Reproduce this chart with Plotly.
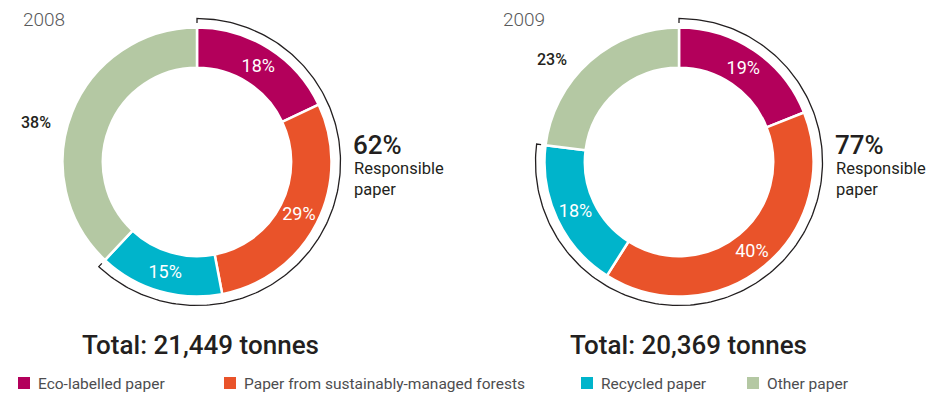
import numpy as np
import plotly.graph_objects as go

# ---------------- data ----------------
categories = ["Eco-labelled paper", "Paper from sustainably-managed forests",
              "Recycled paper", "Other paper"]
years = ["2008", "2009"]
values_2008 = [18, 29, 15, 38]
values_2009 = [19, 40, 18, 23]
totals = [21449, 20369]
responsible_label = "Responsible<br>paper"

colors = ["#B3005B", "#E9532A", "#00B4CB", "#B4C8A3"]
dark = "#231F20"
gray = "#58595B"

W, H = 938, 396
R_OUT = 134.5
CENTERS = [(197, 162), (679, 162)]

fig = go.Figure()

all_values = [values_2008, values_2009]
for (cx, cy), vals in zip(CENTERS, all_values):
    dom_x = [(cx - R_OUT) / W, (cx + R_OUT) / W]
    dom_y = [(H - cy - R_OUT) / H, (H - cy + R_OUT) / H]
    texts = [f"{v}%" for v in vals[:-1]] + [""]
    fig.add_trace(go.Pie(
        labels=categories, values=vals, sort=False, direction="clockwise",
        rotation=0, hole=0.70,
        marker=dict(colors=colors, line=dict(color="white", width=2.5)),
        text=texts, textinfo="text", textposition="inside",
        insidetextorientation="horizontal",
        textfont=dict(family="Roboto", size=18, color="white"),
        domain=dict(x=dom_x, y=dom_y), showlegend=False, hoverinfo="label+percent",
    ))

# bracket arcs for responsible share (first three categories)
R_BR, R_TICK = 143.5, 139
for (cx, cy), vals in zip(CENTERS, all_values):
    frac = sum(vals[:3]) / sum(vals)
    th = np.linspace(0, frac * 2 * np.pi, 200)
    xs = np.concatenate([[cx], cx + R_BR * np.sin(th), [cx + R_TICK * np.sin(th[-1])]])
    ys = np.concatenate([[cy - R_TICK], cy - R_BR * np.cos(th), [cy - R_TICK * np.cos(th[-1])]])
    fig.add_trace(go.Scatter(x=xs, y=ys, mode="lines",
                             line=dict(color=dark, width=1.3),
                             showlegend=False, hoverinfo="skip"))

annotations = []
# year labels
for (cx, cy), yr, dx in zip(CENTERS, years, [-176, -178]):
    annotations.append(dict(x=cx + dx, y=19, text=yr, xanchor="left", yanchor="middle",
                            showarrow=False,
                            font=dict(family="Roboto", size=19, color=gray, weight=300)))
# responsible % text
for (cx, cy), vals in zip(CENTERS, all_values):
    pct = sum(vals[:3])
    x0 = cx + 156
    annotations.append(dict(x=x0 - 2, y=145, text=f"{pct}%", xanchor="left", yanchor="middle",
                            showarrow=False,
                            font=dict(family="Roboto", size=26, color=dark, weight=500)))
    annotations.append(dict(x=x0 - 1, y=157, text=responsible_label, xanchor="left",
                            yanchor="top", align="left", showarrow=False,
                            font=dict(family="Roboto", size=16.5, color=dark)))
# other-paper outside labels
other_pos = [(36, 122), (552, 59)]
for (ox, oy), vals in zip(other_pos, all_values):
    annotations.append(dict(x=ox, y=oy, text=f"{vals[-1]}%", xanchor="center", yanchor="middle",
                            showarrow=False,
                            font=dict(family="Roboto", size=16, color=dark, weight=500)))
# totals
for (cx, cy), tot, tx in zip(CENTERS, totals, [200, 688]):
    annotations.append(dict(x=tx, y=345, text=f"Total: {tot:,} tonnes", xanchor="center",
                            yanchor="middle", showarrow=False,
                            font=dict(family="Roboto", size=26, color=dark, weight=500)))

# custom legend
legend_x = [18, 224, 581, 747]
shapes = []
for lx, cat, col in zip(legend_x, categories, colors):
    shapes.append(dict(type="rect", xref="x", yref="y", x0=lx, x1=lx + 12, y0=377, y1=389,
                       fillcolor=col, line=dict(width=0)))
    annotations.append(dict(x=lx + 18, y=384, text=cat, xanchor="left", yanchor="middle",
                            showarrow=False,
                            font=dict(family="Roboto", size=15.5, color="#4D4D4F")))

fig.update_layout(
    width=W, height=H, margin=dict(l=0, r=0, t=0, b=0),
    paper_bgcolor="white", plot_bgcolor="white",
    xaxis=dict(range=[0, W], visible=False, fixedrange=True, domain=[0, 1]),
    yaxis=dict(range=[H, 0], visible=False, fixedrange=True, domain=[0, 1]),
    annotations=annotations, shapes=shapes,
)

fig.write_html("out.html")
